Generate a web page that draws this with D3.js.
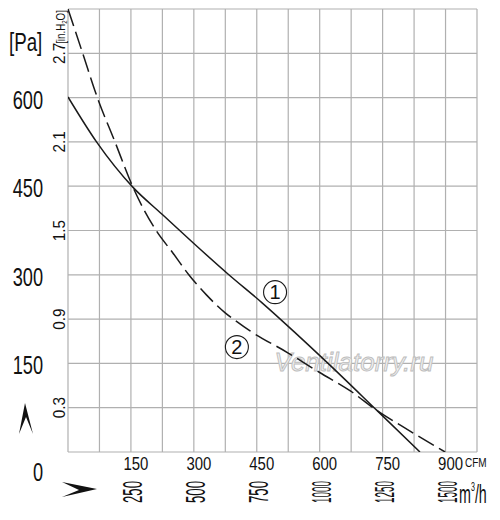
<!DOCTYPE html>
<html>
<head>
<meta charset="utf-8">
<script src="https://cdn.jsdelivr.net/npm/d3@7"></script>
<style>
  html, body { margin: 0; padding: 0; background: #fff; }
  svg { display: block; }
  text { font-family: "Liberation Sans", Arial, sans-serif; fill: #111; }
</style>
</head>
<body>
<svg id="chart" width="500" height="520"></svg>
<script>
// ---- data ----
const solidCFM = [0, 68, 155, 225, 300, 382, 462, 540, 620, 737, 839];
const solidPa  = [601, 525, 448, 402, 353, 301, 253, 203, 150, 70, 0];
const dashCFM  = [0, 35, 70, 112, 155, 211, 250, 287, 330, 374, 400, 434, 524, 599, 674, 737, 800, 899];
const dashPa   = [750, 675, 600, 525, 448, 374, 337, 301, 266, 236, 222, 205, 168, 135, 103, 70, 42, 0];
const cfmTicks = [150, 300, 450, 600, 750, 900];
const m3hLabels = ["250", "500", "750", "1000", "1250", "1500"];
const paTicks = [600, 450, 300, 150, 0];
const inTicks = [0.3, 0.9, 1.5, 2.1, 2.7];
const gridCFM = d3.range(0, 976, 75);
const gridPa = d3.range(0, 751, 75);

// ---- scales ----
const x = d3.scaleLinear().domain([0, 975]).range([68, 477]);
const y = d3.scaleLinear().domain([0, 750]).range([452, 9]);
const yIn = d3.scaleLinear().domain([0, 3.0]).range([452, 9]);

const svg = d3.select("#chart");

// grid
const grid = svg.append("g").attr("stroke", "#b0b0b0").attr("stroke-width", 1.2);
grid.selectAll("line.v").data(gridCFM).join("line")
  .attr("x1", d => x(d)).attr("x2", d => x(d)).attr("y1", y(0)).attr("y2", y(750));
grid.selectAll("line.h").data(gridPa).join("line")
  .attr("y1", d => y(d)).attr("y2", d => y(d)).attr("x1", x(0)).attr("x2", x(975));

// watermark
svg.append("text").attr("x", 354).attr("y", 371).attr("text-anchor", "middle")
  .attr("font-style", "italic").attr("font-size", 26)
  .style("fill", "#f0f0f0").attr("stroke", "#bdbdbd").attr("stroke-width", 0.9)
  .text("Ventilatorry.ru");

// clip
svg.append("clipPath").attr("id", "plot").append("rect")
  .attr("x", x(0)).attr("y", y(750)).attr("width", x(975) - x(0)).attr("height", y(0) - y(750));

const line = d3.line().x(d => x(d[0])).y(d => y(d[1])).curve(d3.curveMonotoneX);
const curves = svg.append("g").attr("clip-path", "url(#plot)");
curves.append("path").datum(solidCFM.map((c, i) => [c, solidPa[i]]))
  .attr("d", line).attr("fill", "none").attr("stroke", "#1a1a1a").attr("stroke-width", 1.5);
curves.append("path").datum(dashCFM.map((c, i) => [c, dashPa[i]]))
  .attr("d", line).attr("fill", "none").attr("stroke", "#1a1a1a").attr("stroke-width", 1.5)
  .attr("stroke-dasharray", "18,6");

// circled curve labels
const tags = [{n: "1", c: 465, p: 274}, {n: "2", c: 374, p: 181}];
const tg = svg.append("g").selectAll("g").data(tags).join("g")
  .attr("transform", d => `translate(${x(d.c) + 12},${y(d.p) + 2})`);
tg.append("circle").attr("r", 11.5).attr("fill", "#fff").attr("stroke", "#1a1a1a").attr("stroke-width", 1.1);
tg.append("text").attr("text-anchor", "middle").attr("y", 7).attr("font-size", 20)
  .attr("font-family", "Liberation Serif, serif").text(d => d.n);

// Pa labels
svg.append("g").selectAll("text").data(paTicks).join("text")
  .attr("transform", d => `translate(43,${y(d) + (d === 0 ? 29 : 11)}) scale(0.7,1)`)
  .attr("text-anchor", "end").attr("font-size", 26).text(d => d);
svg.append("text").attr("transform", "translate(9,51) scale(0.75,1)")
  .attr("font-size", 25).text("[Pa]");

// in.H2O labels (rotated)
svg.append("g").selectAll("text").data(inTicks).join("text")
  .attr("transform", d => `translate(65,${yIn(d)}) rotate(-90) scale(0.9,1)`)
  .attr("text-anchor", "middle").attr("font-size", 17).text(d => d.toFixed(1));
const inLbl = svg.append("text").attr("transform", "translate(65,27) rotate(-90) scale(0.75,1)")
  .attr("text-anchor", "middle").attr("font-size", 13);
inLbl.append("tspan").text("[in.H");
inLbl.append("tspan").attr("font-size", 8).attr("dy", 2).text("2");
inLbl.append("tspan").attr("dy", -2).text("O]");

// CFM labels
svg.append("g").selectAll("text").data(cfmTicks).join("text")
  .attr("transform", d => `translate(${x(d) + 5},470) scale(0.83,1)`)
  .attr("text-anchor", "middle").attr("font-size", 18).text(d => d);
svg.append("text").attr("transform", "translate(465,467) scale(0.8,1)")
  .attr("font-size", 12.5).text("CFM");

// m3/h labels (rotated, compressed)
svg.append("g").selectAll("text").data(m3hLabels).join("text")
  .attr("transform", (d, i) => `translate(${x(cfmTicks[i]) + 11},481) rotate(-90)`)
  .attr("text-anchor", "end").attr("font-size", 28)
  .attr("textLength", 22).attr("lengthAdjust", "spacingAndGlyphs")
  .text(d => d);
const unit = svg.append("text").attr("transform", "translate(459,503) scale(0.55,1)").attr("font-size", 26);
unit.append("tspan").text("m");
unit.append("tspan").attr("font-size", 13).attr("dy", -12).text("3");
unit.append("tspan").attr("dy", 12).text("/h");

// arrows
svg.append("path").attr("d", "M25,403 L33,434 L26,417 L19,434 Z").attr("fill", "#111");
svg.append("path").attr("d", "M97,489 L62,482 L79,490 L62,497 Z").attr("fill", "#111");
</script>
</body>
</html>
